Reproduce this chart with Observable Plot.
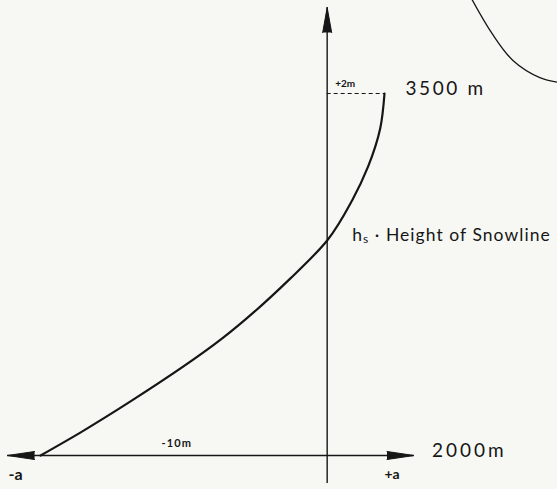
<!DOCTYPE html>
<html>
<head>
<meta charset="utf-8">
<script src="https://cdn.jsdelivr.net/npm/d3@7"></script>
<script src="https://cdn.jsdelivr.net/npm/@observablehq/plot@0.6"></script>
<style>
  html, body { margin: 0; padding: 0; background: #f7f8f4; }
  #chart { width: 557px; height: 489px; overflow: hidden; }
</style>
</head>
<body>
<div id="chart"></div>
<script>
// Mass balance (m) vs altitude (m)
const balance  = [-10, -8.61, -6.86, -3.66, -1.29, 0, 0.87, 1.43, 1.85, 2.0];
const altitude = [2000, 2095, 2224, 2485, 2733, 2891, 3057, 3198, 3355, 3500];

// axis extents (data units)
const xAxisExtent = [-11.15, 3.03];   // horizontal axis at 2000 m
const yAxisExtent = [1884, 3856];     // vertical axis at 0 m balance
const baseAltitude = 2000;
const topAltitude = 3500;
const topBalance = 2;
const snowline = 2891;

// tick / annotation labels
const altitudeLabels = ["2000m", "3500 m"];
const balanceLabels = ["-10m", "+2m"];
const endLabels = ["-a", "+a"];
const snowlineLabel = "hs · Height of Snowline";

// fragment of adjacent figure in the scan (top right)
const fragmentX = [5.05, 5.75, 6.48, 7.42, 8.2];
const fragmentY = [3890, 3749, 3637, 3566, 3544];

const ink = "#161616";
const curve = balance.map((b, i) => ({b, h: altitude[i]}));
const fragment = fragmentX.map((x, i) => ({x, y: fragmentY[i]}));
const font = "Lato, 'Open Sans', sans-serif";

const plot = Plot.plot({
  width: 557,
  height: 489,
  marginLeft: 40,
  marginRight: 173,
  marginTop: 93,
  marginBottom: 34,
  x: {domain: [-10, 2], axis: null},
  y: {domain: [2000, 3500], axis: null},
  style: {background: "#f7f8f4", color: ink, fontFamily: font},
  marks: [
    // axes
    Plot.ruleY([baseAltitude], {x1: xAxisExtent[0], x2: xAxisExtent[1], stroke: ink, strokeWidth: 1.4}),
    Plot.ruleX([0], {y1: yAxisExtent[0], y2: yAxisExtent[1], stroke: ink, strokeWidth: 1.4}),
    // arrowheads
    Plot.vector([{x: xAxisExtent[0], y: baseAltitude, r: -90},
                 {x: xAxisExtent[1], y: baseAltitude, r: 90}],
      {x: "x", y: "y", rotate: "r", length: 27, r: 4, shape: "spike", anchor: "end",
       stroke: ink, fill: ink, fillOpacity: 1, strokeWidth: 1}),
    Plot.vector([{x: 0, y: yAxisExtent[1]}],
      {x: "x", y: "y", rotate: 0, length: 25, r: 4.5, shape: "spike", anchor: "end",
       stroke: ink, fill: ink, fillOpacity: 1, strokeWidth: 1}),
    // dashed line at top
    Plot.ruleY([topAltitude], {x1: 0, x2: topBalance, stroke: ink, strokeWidth: 1.2, strokeDasharray: "4,3"}),
    // the balance curve
    Plot.line(curve, {x: "b", y: "h", curve: "monotone-y", stroke: ink, strokeWidth: 2.2}),
    // fragment
    Plot.line(fragment, {x: "x", y: "y", curve: "catmull-rom", stroke: ink, strokeWidth: 1.3}),
    // labels
    Plot.text([altitudeLabels[1]], {x: topBalance, y: topAltitude, dx: 21, dy: -5, textAnchor: "start",
      fontSize: 19, fill: ink}),
    Plot.text([altitudeLabels[0]], {x: xAxisExtent[1], y: baseAltitude, dx: 18, dy: -5, textAnchor: "start",
      fontSize: 19, fill: ink}),
    Plot.text([balanceLabels[1]], {x: 0, y: topAltitude, dx: 8, dy: -10, textAnchor: "start",
      fontSize: 10, fontWeight: "bold", fill: ink}),
    Plot.text([balanceLabels[0]], {x: -5, y: baseAltitude, dx: -7, dy: -12, textAnchor: "middle",
      fontSize: 11, fontWeight: "bold", fill: ink}),
    Plot.text([endLabels[0]], {x: xAxisExtent[0], y: baseAltitude, dx: 1, dy: 19, textAnchor: "start",
      fontSize: 16, fontWeight: "bold", fill: ink}),
    Plot.text([endLabels[1]], {x: topBalance, y: baseAltitude, dx: 0, dy: 19, textAnchor: "start",
      fontSize: 14, fontWeight: "bold", fill: ink}),
    Plot.text([snowlineLabel], {x: 0, y: snowline, dx: 25, dy: -5, textAnchor: "start",
      fontSize: 17.5, fill: ink})
  ]
});

// letter spacing for the hand-lettered labels
const spacing = new Map([
  [altitudeLabels[1], 2.6], [altitudeLabels[0], 3], [balanceLabels[0], 1.2], [snowlineLabel, 1.05]
]);
d3.select(plot).selectAll("text").each(function() {
  const s = spacing.get(this.textContent);
  if (s != null) this.setAttribute("letter-spacing", s);
});

// render subscript s in "hs"
d3.select(plot).selectAll("text").filter(function() { return this.textContent === snowlineLabel; })
  .each(function() {
    const t = d3.select(this);
    t.text(null);
    t.append("tspan").text("h");
    t.append("tspan").attr("font-size", "12").attr("baseline-shift", "-15%").text("s");
    t.append("tspan").text(" · Height of Snowline");
  });

document.getElementById("chart").appendChild(plot);
</script>
</body>
</html>
